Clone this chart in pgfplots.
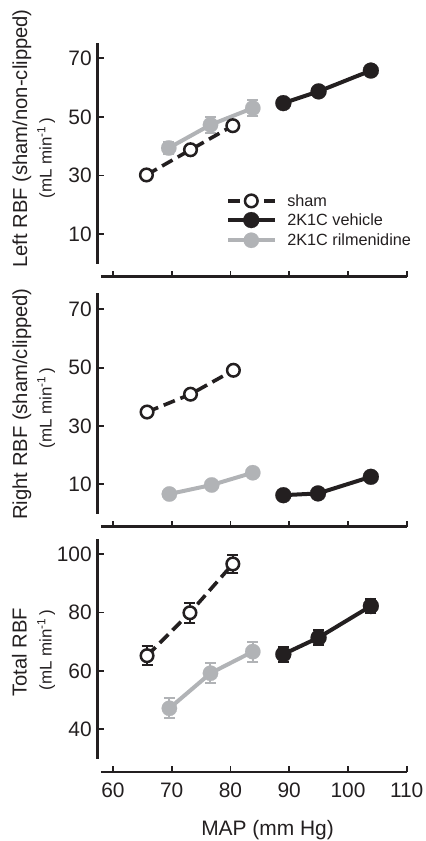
\documentclass[border=0pt]{standalone}
\usepackage{fontspec}
\setmainfont{Liberation Sans}
\usepackage{pgfplots}
\pgfplotsset{compat=1.18}
\definecolor{blk}{RGB}{35,31,32}
\definecolor{gry}{RGB}{177,179,182}
\pgfplotsset{
  panel/.style={
    scale only axis, width=309bp, clip=false,
    xmin=57.4, xmax=110,
    axis x line=bottom, axis y line=left,
    axis line style={draw=none},
    tick align=inside,
    major tick length=6bp,
    tick style={line width=1.8bp, color=blk},
    xtick={60,70,...,110},
    ticklabel style={font=\fontsize{21}{24}\selectfont, color=blk},
    yticklabel style={xshift=-2.5bp},
    xticklabel style={yshift=-7.7bp},
    /pgf/number format/assume math mode=true,
  },
  sham/.style={blk, line width=3.6bp, dash pattern=on 12bp off 6bp, mark=*, mark size=6.3bp,
    mark options={solid, fill=white, draw=blk, line width=2.5bp}},
  veh/.style={blk, line width=4bp, solid, mark=*, mark size=8bp,
    mark options={solid, fill=blk, draw=blk, line width=0.2bp}},
  ril/.style={gry, line width=4bp, solid, mark=*, mark size=7.7bp,
    mark options={solid, fill=gry, draw=gry, line width=0.2bp}},
  ebar/.style={error bars/y dir=both, error bars/y explicit,
    error bars/error bar style={solid, line width=2bp},
    error bars/error mark options={solid, rotate=90, mark size=5.5bp, line width=2bp}},
}
\begin{document}
\begin{tikzpicture}
\path[use as bounding box] (0bp,0bp) rectangle (426bp,-841bp);

% ---------- Panel 1 ----------
\begin{axis}[panel, at={(97.7bp,-276.7bp)}, anchor=south west, height=233.1bp,
  ymin=-4.5, ymax=75, ytick={10,30,50,70}, xticklabels={},
  legend style={draw=none, fill=none, at={(0.4152,0.3535)}, anchor=north west,
    font=\fontsize{16.3}{18}\selectfont, inner sep=0pt, outer sep=0pt,
    row sep=4.5bp, column sep=10.6bp, nodes={inner sep=0pt, text=blk}},
  legend cell align=left,
  legend image code/.code={\draw[#1, mark repeat=2, mark phase=2] plot coordinates {(0bp,0bp) (23.3bp,0bp) (46.7bp,0bp)};}]
\draw[blk, line width=2.8bp] (axis cs:57.4,0) -- (axis cs:57.4,75.3);
\draw[blk, line width=2.8bp] (axis cs:57.96,-4.5) -- (axis cs:110,-4.5);
\addplot[ril, ebar, forget plot] coordinates {(69.5,39.4) +- (0,2.2) (76.6,47.3) +- (0,2.7) (83.8,53.0) +- (0,2.8)};
\addplot[sham] coordinates {(65.7,30.2) (73.2,38.8) (80.4,47.0)};
\addplot[veh] coordinates {(89.0,54.7) (95.0,58.7) (103.9,65.8)};
\addlegendimage{ril}
\legend{sham, 2K1C vehicle, 2K1C rilmenidine}
\end{axis}

% ---------- Panel 2 ----------
\begin{axis}[panel, at={(97.7bp,-526.7bp)}, anchor=south west, height=232bp,
  ymin=-4.5, ymax=75, ytick={10,30,50,70}, xticklabels={}]
\draw[blk, line width=2.8bp] (axis cs:57.4,0) -- (axis cs:57.4,75.5);
\draw[blk, line width=2.8bp] (axis cs:57.96,-4.5) -- (axis cs:110,-4.5);
\addplot[ril] coordinates {(69.6,6.7) (76.8,9.8) (83.8,14.0)};
\addplot[sham] coordinates {(65.8,34.8) (73.2,40.9) (80.5,49.1)};
\addplot[veh] coordinates {(89.0,6.3) (94.9,6.9) (103.9,12.6)};
\end{axis}

% ---------- Panel 3 ----------
\begin{axis}[panel, at={(97.7bp,-772bp)}, anchor=south west, height=232.6bp,
  ymin=25.4, ymax=105, ytick={40,60,80,100}]
\draw[blk, line width=2.8bp] (axis cs:57.4,30) -- (axis cs:57.4,105.3);
\draw[blk, line width=2.8bp] (axis cs:57.96,25.4) -- (axis cs:110,25.4);
\addplot[ril, ebar] coordinates {(69.6,47.2) +- (0,3.4) (76.6,59.2) +- (0,3.4) (83.8,66.6) +- (0,3.4)};
\addplot[sham, ebar] coordinates {(65.8,65.2) +- (0,3.3) (73.1,79.9) +- (0,3.4) (80.4,96.6) +- (0,3.1)};
\addplot[veh, ebar] coordinates {(89.0,65.7) +- (0,2.5) (95.0,71.4) +- (0,2.5) (103.9,82.2) +- (0,2.5)};
\end{axis}

% ---------- axis labels ----------
\node[rotate=90, anchor=base, inner sep=0pt, text=blk, font=\fontsize{20.3}{24}\selectfont] at (27bp,-138.5bp) {Left RBF (sham/non-clipped)};
\node[rotate=90, anchor=base, inner sep=0pt, text=blk, font=\fontsize{17}{20}\selectfont] at (51.7bp,-158bp) {(mL min\textsuperscript{-1}\,)};
\node[rotate=90, anchor=base, inner sep=0pt, text=blk, font=\fontsize{20.3}{24}\selectfont] at (27bp,-404bp) {Right RBF (sham/clipped)};
\node[rotate=90, anchor=base, inner sep=0pt, text=blk, font=\fontsize{17}{20}\selectfont] at (51.7bp,-408bp) {(mL min\textsuperscript{-1}\,)};
\node[rotate=90, anchor=base, inner sep=0pt, text=blk, font=\fontsize{20.3}{24}\selectfont] at (26.7bp,-652.5bp) {Total RBF};
\node[rotate=90, anchor=base, inner sep=0pt, text=blk, font=\fontsize{17}{20}\selectfont] at (51.7bp,-650bp) {(mL min\textsuperscript{-1}\,)};
\node[anchor=base, inner sep=0pt, text=blk, font=\fontsize{21}{24}\selectfont] at (267.5bp,-835bp) {MAP (mm Hg)};
\end{tikzpicture}
\end{document}
